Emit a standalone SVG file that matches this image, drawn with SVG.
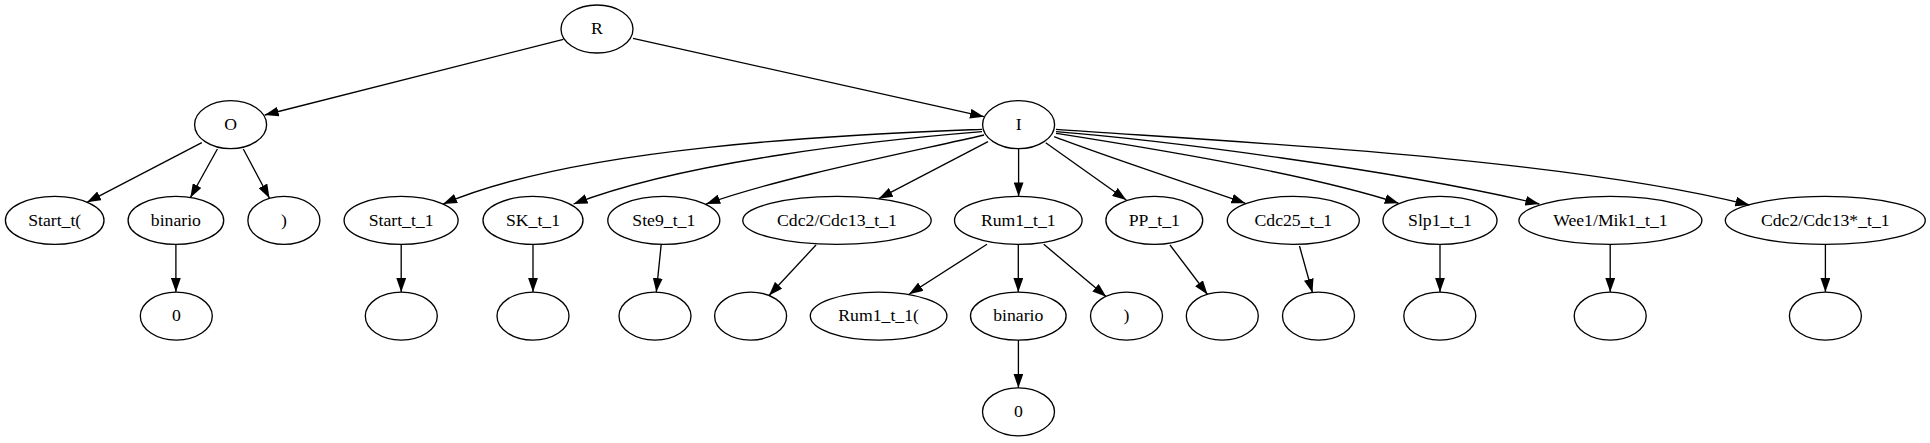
<svg xmlns="http://www.w3.org/2000/svg" width="1930" height="443" viewBox="0 0 1930 443" font-family="'Liberation Serif', 'Times New Roman', Times, serif">
<style>
.n ellipse{fill:none;stroke:#000;stroke-width:1.33}
.n text{font-family:'Liberation Serif','Times New Roman',Times,serif;font-size:17.7px;text-anchor:middle;fill:#000}
.e path{fill:none;stroke:#000;stroke-width:1.33;marker-end:url(#ah)}
</style>
<defs>
<marker id="ah" markerUnits="userSpaceOnUse" markerWidth="14" markerHeight="10" refX="13.3" refY="4.67" orient="auto" viewBox="0 0 13.3 9.34"><path d="M0,0 L13.3,4.67 L0,9.34 z" fill="#000"/></marker>
</defs>
<rect width="1930" height="443" fill="#fff"/>
<g id="edges" class="e">
<path d="M563.4,39.3 L264.7,115"/>
<path d="M633,38.3 L984,116.7"/>
<path d="M201.8,142.7 L87,202.3"/>
<path d="M217.4,149 L190.3,197.8"/>
<path d="M243.3,149 L269.5,198.2"/>
<path d="M175.9,244.4 L175.9,292.1"/>
<path d="M982,129.3 C850,135 581,145 443.1,204"/>
<path d="M982,131.7 C880,140 685.4,160.7 573.6,204"/>
<path d="M984,135 C920,150 781.4,176.8 706.2,204"/>
<path d="M988,141.7 L878.7,198.7"/>
<path d="M1018.6,148.7 L1018.6,196.4"/>
<path d="M1045.7,142.7 L1126.3,200"/>
<path d="M1054.2,136.7 C1110,158 1190,184 1245.4,203.3"/>
<path d="M1056,133.3 C1130,145 1303.7,172.3 1398.7,203.3"/>
<path d="M1056,131.7 C1160,140 1393.4,169.5 1539.4,204"/>
<path d="M1056,129.3 C1200,140 1555.4,156.2 1749.4,205"/>
<path d="M401.2,244.4 L401.2,292.1"/>
<path d="M533,244.4 L533,292.1"/>
<path d="M661.2,244.4 L656.3,292.1"/>
<path d="M816,245 L769,295.5"/>
<path d="M987,244.3 L909,294.2"/>
<path d="M1018.3,244.4 L1018.3,292.1"/>
<path d="M1043.75,244.3 L1106.25,296.7"/>
<path d="M1170,245 L1207.5,294.5"/>
<path d="M1299.5,246 L1312.5,292.8"/>
<path d="M1440,244.4 L1440,292.1"/>
<path d="M1610.2,244.4 L1610.2,292.1"/>
<path d="M1825.4,244.4 L1825.4,292.1"/>
<path d="M1018.4,340.1 L1018.4,387.8"/>
</g>
<g id="n_R" class="n"><ellipse cx="597" cy="29" rx="36" ry="24"/><text x="597" y="34.3">R</text></g>
<g id="n_O" class="n"><ellipse cx="230.6" cy="124.7" rx="36" ry="24"/><text x="230.6" y="130">O</text></g>
<g id="n_I" class="n"><ellipse cx="1018.6" cy="124.7" rx="36" ry="24"/><text x="1018.6" y="130">I</text></g>
<g id="n_Start_t_paren" class="n"><ellipse cx="54.7" cy="220.4" rx="49.3" ry="24"/><text x="54.7" y="225.7">Start_t(</text></g>
<g id="n_binario_O" class="n"><ellipse cx="175.9" cy="220.4" rx="47.8" ry="24"/><text x="175.9" y="225.7">binario</text></g>
<g id="n_close_O" class="n"><ellipse cx="283.9" cy="220.4" rx="36" ry="24"/><text x="283.9" y="225.7">)</text></g>
<g id="n_Start_t_1" class="n"><ellipse cx="401.1" cy="220.4" rx="57" ry="24"/><text x="401.1" y="225.7">Start_t_1</text></g>
<g id="n_SK_t_1" class="n"><ellipse cx="533" cy="220.4" rx="50" ry="24"/><text x="533" y="225.7">SK_t_1</text></g>
<g id="n_Ste9_t_1" class="n"><ellipse cx="663.8" cy="220.4" rx="56" ry="24"/><text x="663.8" y="225.7">Ste9_t_1</text></g>
<g id="n_Cdc2Cdc13_t_1" class="n"><ellipse cx="837" cy="220.4" rx="94.2" ry="24"/><text x="837" y="225.7">Cdc2/Cdc13_t_1</text></g>
<g id="n_Rum1_t_1" class="n"><ellipse cx="1018.3" cy="220.4" rx="63.8" ry="24"/><text x="1018.3" y="225.7">Rum1_t_1</text></g>
<g id="n_PP_t_1" class="n"><ellipse cx="1154.3" cy="220.4" rx="48.4" ry="24"/><text x="1154.3" y="225.7">PP_t_1</text></g>
<g id="n_Cdc25_t_1" class="n"><ellipse cx="1293.3" cy="220.4" rx="66" ry="24"/><text x="1293.3" y="225.7">Cdc25_t_1</text></g>
<g id="n_Slp1_t_1" class="n"><ellipse cx="1440" cy="220.4" rx="57" ry="24"/><text x="1440" y="225.7">Slp1_t_1</text></g>
<g id="n_Wee1Mik1_t_1" class="n"><ellipse cx="1610.4" cy="220.4" rx="91.5" ry="24"/><text x="1610.4" y="225.7">Wee1/Mik1_t_1</text></g>
<g id="n_Cdc2Cdc13s_t_1" class="n"><ellipse cx="1825.3" cy="220.4" rx="100" ry="24"/><text x="1825.3" y="225.7">Cdc2/Cdc13*_t_1</text></g>
<g id="n_zero_O" class="n"><ellipse cx="176.3" cy="316.1" rx="36" ry="24"/><text x="176.3" y="321.4">0</text></g>
<g id="n_e_Start" class="n"><ellipse cx="401.3" cy="316.1" rx="36" ry="24"/></g>
<g id="n_e_SK" class="n"><ellipse cx="533" cy="316.1" rx="36" ry="24"/></g>
<g id="n_e_Ste9" class="n"><ellipse cx="655" cy="316.1" rx="36" ry="24"/></g>
<g id="n_e_Cdc2Cdc13" class="n"><ellipse cx="750.6" cy="316.1" rx="36" ry="24"/></g>
<g id="n_Rum1_t_1_paren" class="n"><ellipse cx="878.6" cy="316.1" rx="68.3" ry="24"/><text x="878.6" y="321.4">Rum1_t_1(</text></g>
<g id="n_binario_Rum" class="n"><ellipse cx="1018.3" cy="316.1" rx="47.8" ry="24"/><text x="1018.3" y="321.4">binario</text></g>
<g id="n_close_Rum" class="n"><ellipse cx="1126.5" cy="316.1" rx="36" ry="24"/><text x="1126.5" y="321.4">)</text></g>
<g id="n_e_PP" class="n"><ellipse cx="1222.3" cy="316.1" rx="36" ry="24"/></g>
<g id="n_e_Cdc25" class="n"><ellipse cx="1318.5" cy="316.1" rx="36" ry="24"/></g>
<g id="n_e_Slp1" class="n"><ellipse cx="1439.8" cy="316.1" rx="36" ry="24"/></g>
<g id="n_e_Wee1" class="n"><ellipse cx="1610.2" cy="316.1" rx="36" ry="24"/></g>
<g id="n_e_Cdc2Cdc13s" class="n"><ellipse cx="1825.4" cy="316.1" rx="36" ry="24"/></g>
<g id="n_zero_Rum" class="n"><ellipse cx="1018.5" cy="411.8" rx="36" ry="24"/><text x="1018.5" y="417.1">0</text></g>
</svg>
